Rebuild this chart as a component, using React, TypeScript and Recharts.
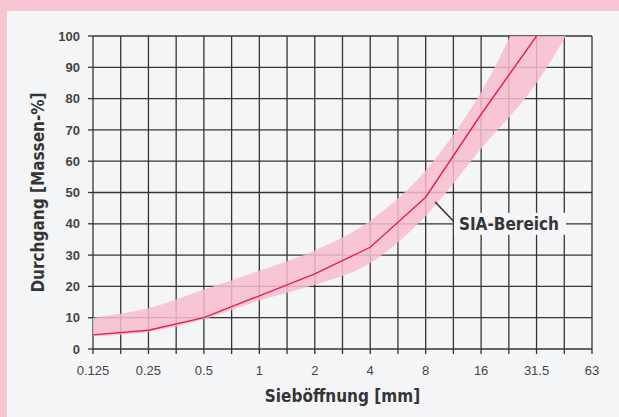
import {
  Area,
  CartesianGrid,
  ComposedChart,
  Line,
  ReferenceDot,
  ReferenceLine,
  XAxis,
  YAxis,
} from 'recharts';

// Siebkurve mit SIA-Bereich (Sieblinie 0–63 mm)
const sieveLabels = ['0.125', '0.25', '0.5', '1', '2', '4', '8', '16', '31.5', '63'];
const passLine = [4.5, 6, 10, 17, 24, 32.5, 48.5, 75, 100, null];
const bandLow = [4, 5.5, 9.5, 15.5, 20.5, 27.5, 42.5, 64, 85, 115];
const bandHigh = [10, 13, 19, 25, 31.5, 41, 57, 82, 115, 130];
const yTicks = [0, 10, 20, 30, 40, 50, 60, 70, 80, 90, 100];

// Beschriftung "SIA-Bereich" mit Hinweislinie (in Datenkoordinaten)
const bandLabel = 'SIA-Bereich';
const leaderFrom = { x: 6.17, y: 47 };
const leaderTo = { x: 6.52, y: 40.5 };
const labelAt = { x: 6.6, y: 40 };

const data = sieveLabels.map((label, i) => ({
  idx: i,
  label,
  line: passLine[i],
  band: [bandLow[i], bandHigh[i]],
}));

// Gitter hat auch Linien zwischen den Sieböffnungen
const xTicks = sieveLabels.flatMap((_, i) => (i === 0 ? [0] : [i - 0.5, i]));

const INK = '#353535';
const PANEL = '#f4f5f7';

function BandLabel({ cx, cy }: { cx?: number; cy?: number }) {
  if (cx == null || cy == null) return null;
  return (
    <g>
      <rect x={cx - 5} y={cy - 11} width={112} height={22} fill={PANEL} />
      <text
        x={cx}
        y={cy}
        dy={6}
        fill={INK}
        fontSize={17}
        fontWeight="bold"
        fontFamily="'DejaVu Sans Condensed', 'Liberation Sans', sans-serif"
      >
        {bandLabel}
      </text>
    </g>
  );
}

export default function App() {
  return (
    <div
      style={{
        position: 'absolute',
        left: 0,
        top: 0,
        width: 619,
        height: 417,
        background: '#f6c6d3',
        overflow: 'hidden',
      }}
    >
      <div
        style={{ position: 'absolute', left: 7, top: 11, right: 0, bottom: 0, background: PANEL }}
      />
      <div style={{ position: 'absolute', left: 0, top: 0 }}>
        <ComposedChart
          width={619}
          height={417}
          data={data}
          margin={{ top: 36, right: 27, bottom: 13, left: 33 }}
        >
          <CartesianGrid stroke={INK} strokeWidth={1.3} />
          <XAxis
            dataKey="idx"
            type="number"
            domain={[0, 9]}
            ticks={xTicks}
            interval={0}
            tickFormatter={(v: number) => (Number.isInteger(v) ? sieveLabels[v] : '')}
            axisLine={false}
            tickLine={{ stroke: INK, strokeWidth: 1.3 }}
            tickSize={5}
            tickMargin={12}
            height={55}
            tick={{ fill: '#444', fontSize: 13, fontFamily: "'Liberation Sans', Arial, sans-serif" }}
            label={{
              value: 'Sieböffnung [mm]',
              position: 'insideBottom',
              offset: 2,
              fill: INK,
              fontSize: 17,
              fontWeight: 'bold',
              fontFamily: "'DejaVu Sans Condensed', 'Liberation Sans', sans-serif",
            }}
          />
          <YAxis
            type="number"
            domain={[0, 100]}
            ticks={yTicks}
            allowDataOverflow
            axisLine={false}
            tickLine={{ stroke: INK, strokeWidth: 1.3 }}
            tickSize={5}
            tickMargin={8}
            width={60}
            tick={{
              fill: '#444',
              fontSize: 13,
              fontWeight: 'bold',
              fontFamily: "'Liberation Sans', Arial, sans-serif",
            }}
            label={{
              value: 'Durchgang [Massen-%]',
              angle: -90,
              position: 'center',
              dx: -25,
              fill: INK,
              fontSize: 17,
              fontWeight: 'bold',
              fontFamily: "'DejaVu Sans Condensed', 'Liberation Sans', sans-serif",
            }}
          />
          <Area
            dataKey="band"
            type="monotone"
            stroke="none"
            fill="#f7bccd"
            fillOpacity={0.85}
            isAnimationActive={false}
          />
          <Line
            dataKey="line"
            type="linear"
            stroke="#e3204f"
            strokeWidth={1.4}
            dot={false}
            isAnimationActive={false}
          />
          <ReferenceLine
            segment={[leaderFrom, leaderTo]}
            stroke={INK}
            strokeWidth={1.5}
          />
          <ReferenceDot x={labelAt.x} y={labelAt.y} r={0} shape={(p: any) => <BandLabel cx={p.cx} cy={p.cy} />} />
        </ComposedChart>
      </div>
    </div>
  );
}
